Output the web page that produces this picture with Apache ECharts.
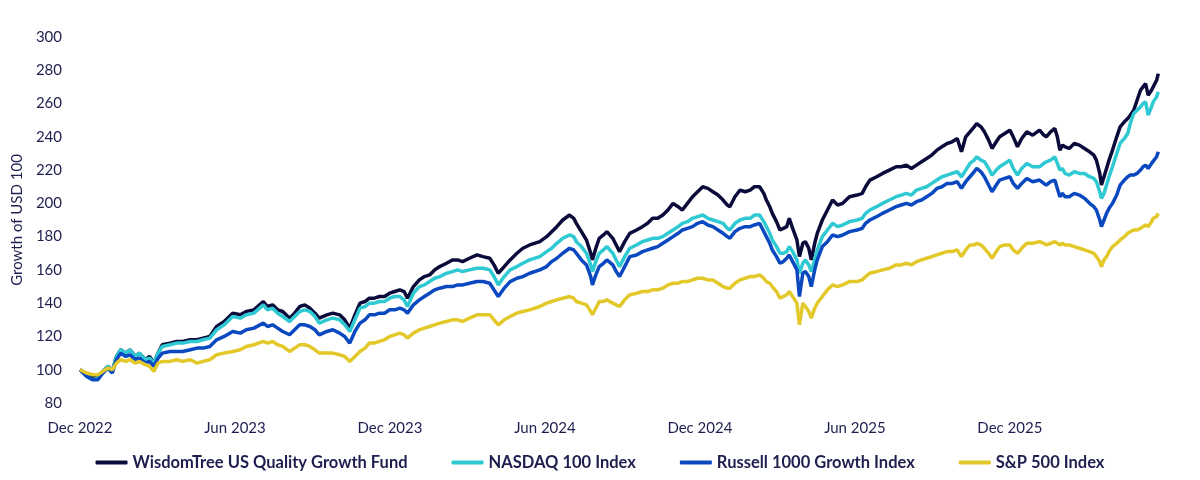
<!DOCTYPE html>
<html>
<head>
<meta charset="utf-8">
<script src="https://cdn.jsdelivr.net/npm/echarts@6/dist/echarts.min.js"></script>
<style>
  html, body { margin: 0; padding: 0; background: #fff; }
  #chart { width: 1200px; height: 480px; }
</style>
</head>
<body>
<div id="chart"></div>
<script>
// values
const dates = [
  '2022-12-01','2022-12-09','2022-12-16','2022-12-22','2022-12-28',
  '2023-01-03','2023-01-08','2023-01-13','2023-01-18','2023-01-24','2023-01-29',
  '2023-02-04','2023-02-09','2023-02-16','2023-02-21','2023-02-26',
  '2023-03-03','2023-03-08','2023-03-17','2023-03-25',
  '2023-04-01','2023-04-10','2023-04-18','2023-04-25',
  '2023-05-03','2023-05-11','2023-05-20','2023-05-30',
  '2023-06-08','2023-06-15','2023-06-24',
  '2023-07-05','2023-07-10','2023-07-16','2023-07-22','2023-07-28',
  '2023-08-05','2023-08-11','2023-08-17','2023-08-23','2023-08-29',
  '2023-09-04','2023-09-09','2023-09-18','2023-09-25',
  '2023-10-03','2023-10-09','2023-10-15','2023-10-21','2023-10-27',
  '2023-11-02','2023-11-07','2023-11-13','2023-11-19','2023-11-25',
  '2023-12-01','2023-12-07','2023-12-13','2023-12-18','2023-12-22','2023-12-29',
  '2024-01-05','2024-01-11','2024-01-17','2024-01-23','2024-01-29',
  '2024-02-06','2024-02-13','2024-02-19','2024-02-25',
  '2024-03-04','2024-03-13','2024-03-20','2024-03-28',
  '2024-04-02','2024-04-07','2024-04-14','2024-04-21','2024-04-29',
  '2024-05-06','2024-05-14','2024-05-26',
  '2024-06-03','2024-06-09','2024-06-15','2024-06-22','2024-06-30',
  '2024-07-05','2024-07-08','2024-07-14','2024-07-20','2024-07-25','2024-07-27','2024-07-31',
  '2024-08-04','2024-08-09','2024-08-13','2024-08-20','2024-08-24','2024-08-28',
  '2024-09-03','2024-09-09','2024-09-17','2024-09-24','2024-09-30',
  '2024-10-06','2024-10-12','2024-10-18','2024-10-24','2024-10-30',
  '2024-11-05','2024-11-10','2024-11-16','2024-11-22','2024-11-28',
  '2024-12-04','2024-12-10','2024-12-16','2024-12-22','2024-12-28',
  '2025-01-02','2025-01-05','2025-01-11','2025-01-17','2025-01-23','2025-01-29',
  '2025-02-03','2025-02-09','2025-02-14','2025-02-17','2025-02-21','2025-02-24',
  '2025-03-01','2025-03-05','2025-03-09','2025-03-13','2025-03-16','2025-03-20','2025-03-25','2025-03-28',
  '2025-04-01','2025-04-04','2025-04-08','2025-04-11','2025-04-15','2025-04-18','2025-04-24','2025-04-30',
  '2025-05-06','2025-05-12','2025-05-18','2025-05-26',
  '2025-06-04','2025-06-10','2025-06-14','2025-06-19','2025-06-27',
  '2025-07-04','2025-07-12','2025-07-20','2025-07-26',
  '2025-08-01','2025-08-07','2025-08-13','2025-08-19','2025-08-25','2025-08-31',
  '2025-09-06','2025-09-12','2025-09-18','2025-09-24','2025-09-30',
  '2025-10-05','2025-10-10','2025-10-15','2025-10-20','2025-10-23','2025-10-28',
  '2025-11-01','2025-11-06','2025-11-10','2025-11-15','2025-11-19','2025-11-25',
  '2025-12-01','2025-12-05','2025-12-10','2025-12-15','2025-12-21','2025-12-28',
  '2026-01-05','2026-01-10','2026-01-13','2026-01-18','2026-01-23','2026-01-26','2026-01-29',
  '2026-02-01','2026-02-04','2026-02-09','2026-02-15','2026-02-21','2026-02-27',
  '2026-03-05','2026-03-10','2026-03-13','2026-03-17','2026-03-19','2026-03-22','2026-03-25','2026-03-28',
  '2026-04-01','2026-04-06','2026-04-10','2026-04-15','2026-04-19','2026-04-22','2026-04-26','2026-04-30',
  '2026-05-04','2026-05-07','2026-05-10','2026-05-13','2026-05-17','2026-05-19','2026-05-23','2026-05-25'
]

const fund = [
  100,97,95,96,99,
  102,99,108,112,110,112,
  108,110,106,108,104,
  110,115,116,117,
  117,118,118,119,
  120,126,129,134,
  133,135,136,
  141,138,139,136,135,
  131,134,138,139,137,
  134,131,133,134,
  133,130,125,133,140,
  141,143,143,144,144,
  146,147,148,147,143,150,
  154,156,157,160,162,
  164,166,166,165,
  167,169,168,167,
  163,158,162,166,170,
  173,175,177,
  180,183,186,190,193,
  191,188,183,178,170,166,173,
  179,181,183,179,175,171,
  177,182,184,186,188,
  191,191,193,196,200,
  198,196,200,204,207,
  210,209,207,205,202,
  199,198,204,208,207,208,
  210,210,206,202,198,194,
  189,184,185,186,191,185,178,168,
  176,177,173,166,176,182,190,196,
  202,199,200,204,
  205,206,210,214,216,
  218,220,222,222,
  223,221,223,225,227,229,
  232,234,236,237,239,
  231,240,243,246,248,246,
  243,238,233,237,240,242,
  244,240,234,239,243,241,
  244,241,240,243,245,240,232,
  235,234,233,236,235,233,
  231,229,226,218,211,216,221,226,
  232,240,246,249,251,253,256,262,
  268,270,272,265,268,270,274,278
]

const nasdaq = [
  100,96,94,95,99,
  102,99,108,112,110,112,
  108,110,106,107,104,
  110,114,115,116,
  116,117,117,118,
  119,124,127,132,
  131,133,134,
  139,136,137,134,132,
  129,132,135,136,135,
  132,128,130,131,
  130,127,123,130,137,
  138,140,140,141,141,
  143,144,144,142,138,146,
  150,151,153,155,156,
  158,159,160,159,
  160,161,161,160,
  156,151,156,160,162,
  164,166,168,
  171,173,176,179,181,
  180,177,174,170,163,159,165,
  170,172,174,170,166,162,
  168,173,175,177,178,
  179,179,180,182,184,
  186,188,189,191,192,
  193,191,190,189,188,
  185,184,188,190,191,191,
  193,193,189,186,182,178,
  174,170,170,171,174,171,166,158,
  164,166,163,159,166,172,180,184,
  188,186,187,189,
  190,191,194,196,198,
  200,202,204,205,
  206,205,208,209,210,212,
  214,216,217,218,219,
  216,220,224,226,228,226,
  225,221,217,220,222,224,
  226,221,217,221,224,222,
  222,224,225,226,228,224,220,
  221,218,217,219,218,218,
  216,215,213,207,203,206,211,216,
  222,230,236,239,242,248,254,256,
  258,260,261,253,258,261,264,267
]

const russell = [
  100,96,94,94,98,
  101,98,106,110,108,109,
  106,107,104,105,102,
  107,110,111,111,
  111,112,113,113,
  114,118,120,123,
  122,124,125,
  128,126,127,125,123,
  121,124,127,127,126,
  124,121,123,124,
  122,120,116,123,128,
  130,133,133,134,134,
  136,136,137,136,134,139,
  142,144,146,148,149,
  150,150,151,151,
  152,153,153,152,
  148,144,149,153,155,
  156,158,160,
  162,165,167,170,173,
  172,170,166,163,156,151,157,
  162,164,166,163,159,156,
  162,168,169,171,172,
  173,174,176,178,180,
  182,184,185,186,188,
  189,187,186,184,182,
  180,179,183,185,186,186,
  187,188,183,180,176,172,
  168,164,165,167,169,165,160,144,
  158,159,156,150,160,166,174,177,
  181,180,181,183,
  184,185,188,190,192,
  194,196,198,199,
  200,199,201,202,204,206,
  209,210,212,212,213,
  209,213,216,219,221,219,
  216,211,207,211,214,215,
  216,212,209,212,215,213,
  214,212,211,213,214,209,204,
  206,204,204,206,205,203,
  200,198,196,190,186,190,194,197,
  200,205,211,214,216,217,217,218,
  220,222,223,221,224,225,228,231
]

const sp500 = [
  100,98,97,97,99,
  101,100,104,106,105,106,
  104,105,103,102,99,
  104,105,105,106,
  105,106,104,105,
  106,109,110,111,
  112,114,115,
  117,116,117,115,114,
  111,113,115,115,114,
  112,110,110,110,
  109,108,105,108,111,
  113,116,116,117,118,
  120,121,122,121,119,122,
  124,125,126,127,128,
  129,130,130,129,
  131,133,133,133,
  130,127,130,132,134,
  135,136,138,
  140,141,142,143,144,
  143,141,140,139,135,133,137,
  141,141,142,140,139,138,
  142,145,146,147,147,
  148,148,149,151,152,
  152,153,153,154,155,
  155,154,154,152,150,
  149,149,152,154,155,156,
  156,157,155,153,152,150,
  147,143,144,145,147,144,140,127,
  140,138,135,131,137,140,144,148,
  151,150,151,153,
  153,154,156,158,159,
  160,161,163,163,
  164,163,165,166,167,168,
  169,170,171,171,172,
  168,172,175,175,176,175,
  173,170,167,171,174,175,
  175,172,170,173,176,176,
  177,176,175,176,177,176,175,
  176,175,175,174,173,172,
  171,170,168,165,162,166,168,171,
  174,176,178,180,182,183,184,184,
  185,186,187,186,189,191,192,194
]

const xTickLabels = ['Dec 2022', 'Jun 2023', 'Dec 2023', 'Jun 2024', 'Dec 2024', 'Jun 2025', 'Dec 2025']

const seriesNames = ['WisdomTree US Quality Growth Fund', 'NASDAQ 100 Index', 'Russell 1000 Growth Index', 'S&P 500 Index']
const seriesColors = ['#0b0b3b', '#2ec9d2', '#0a48c0', '#e3c82a']

const DAY = 86400000
const base = Date.UTC(2022, 11, 1)
const halfYear = 182.67
const xDays = dates.map(d => (Date.parse(d + 'T00:00:00Z') - base) / DAY)

const textColor = '#1e1f4f'
const font = 'Lato, "Noto Sans", sans-serif'

const chart = echarts.init(document.getElementById('chart'))
chart.setOption({
  animation: false,
  grid: {
    left: 80,
    right: 40,
    top: 37,
    bottom: 77,
  },
  legend: {
    bottom: 4,
    left: 'center',
    icon: 'roundRect',
    itemWidth: 32,
    itemHeight: 4,
    itemGap: 44,
    data: seriesNames,
    textStyle: {
      color: textColor,
      fontSize: 16.5,
      fontWeight: 'bold',
      fontFamily: font,
    },
  },
  xAxis: {
    type: 'value',
    min: 0,
    max: 1273,
    interval: halfYear,
    axisLine: { show: false },
    axisTick: { show: false },
    splitLine: { show: false },
    axisLabel: {
      color: textColor,
      fontSize: 15,
      fontFamily: font,
      margin: 18,
      showMaxLabel: false,
      formatter: v => xTickLabels[Math.round(v / halfYear)] || '',
    },
  },
  yAxis: {
    type: 'value',
    min: 80,
    max: 300,
    interval: 20,
    name: 'Growth of USD 100',
    nameLocation: 'middle',
    nameRotate: 90,
    nameGap: 55,
    nameTextStyle: {
      color: textColor,
      fontSize: 15,
      fontFamily: font,
    },
    axisLine: { show: false },
    axisTick: { show: false },
    splitLine: { show: false },
    axisLabel: {
      color: textColor,
      fontSize: 15,
      fontFamily: font,
      margin: 18,
    },
  },
  series: [fund, nasdaq, russell, sp500].map((vals, i) => ({
    name: seriesNames[i],
    type: 'line',
    symbol: 'none',
    color: seriesColors[i],
    lineStyle: { width: 3.5, color: seriesColors[i] },
    data: vals.map((v, j) => [xDays[j], v]),
  })),
})
</script>
</body>
</html>
